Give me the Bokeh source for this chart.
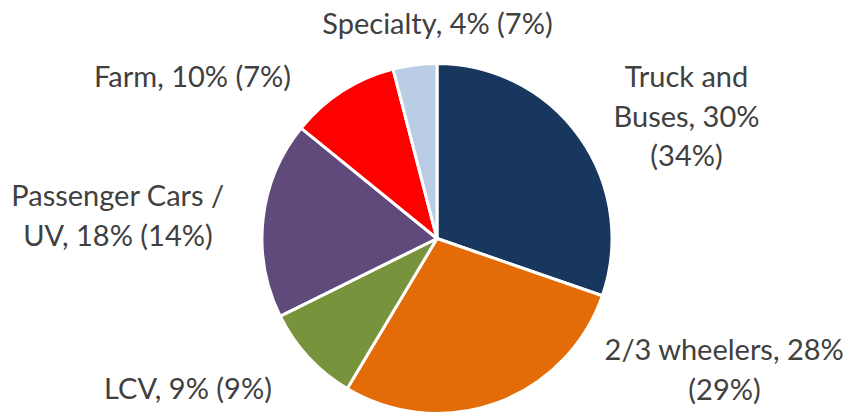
import math
from bokeh.plotting import figure
from bokeh.models import Range1d, ColumnDataSource
from bokeh.core.properties import value
from bokeh.embed import file_html
from bokeh.resources import INLINE

# ---- data ----
categories = ["Truck and Buses", "2/3 wheelers", "LCV", "Passenger Cars / UV", "Farm", "Specialty"]
share = [30, 28, 9, 18, 10, 4]        # current share, %
prior = [34, 29, 9, 14, 7, 7]         # share in brackets, %
colors = ["#17375E", "#E36C09", "#77933C", "#604A7B", "#FF0000", "#B9CDE5"]

# ---- layout (pixel coords of the picture, y from top) ----
label_lines = [
    ["Truck and", "Buses, {s}%", "({p}%)"],
    ["2/3 wheelers, {s}%", "({p}%)"],
    ["LCV, {s}% ({p}%)"],
    ["Passenger Cars /", "UV, {s}% ({p}%)"],
    ["Farm, {s}% ({p}%)"],
    ["Specialty, {s}% ({p}%)"],
]
label_anchor = [(686, 75), (724, 348), (187.5, 386.5), (117.5, 194), (192, 75), (437, 21.5)]  # first-line middle
LINE_H = 39.5
CX, CY, R = 436.5, 238, 175

W, H = 851, 413
p = figure(width=W, height=H, x_range=Range1d(0, W), y_range=Range1d(0, H),
           output_backend="svg", toolbar_location=None, min_border=0)
p.axis.visible = False
p.grid.visible = False
p.outline_line_color = None
p.background_fill_color = "white"

total = float(sum(share))
starts, ends = [], []
cum = 0.0
for v in share:
    starts.append(math.pi / 2 - cum / total * 2 * math.pi)
    cum += v
    ends.append(math.pi / 2 - cum / total * 2 * math.pi)

src = ColumnDataSource(dict(x=[CX] * len(share), y=[H - CY] * len(share),
                            start=starts, end=ends, color=colors))
p.wedge(x="x", y="y", radius=R, start_angle="start", end_angle="end", direction="clock",
        fill_color="color", line_color="white", line_width=3, source=src)

tx, ty, tt = [], [], []
for i, lines in enumerate(label_lines):
    ax, ay = label_anchor[i]
    for j, ln in enumerate(lines):
        tx.append(ax)
        ty.append(H - (ay + j * LINE_H))
        tt.append(ln.format(s=share[i], p=prior[i]))

p.text(x=tx, y=ty, text=tt, text_align="center", text_baseline="middle",
       text_font=value("Lato"), text_font_size="29px", text_color="#404040")

open("out.html", "w").write(file_html(p, INLINE))
